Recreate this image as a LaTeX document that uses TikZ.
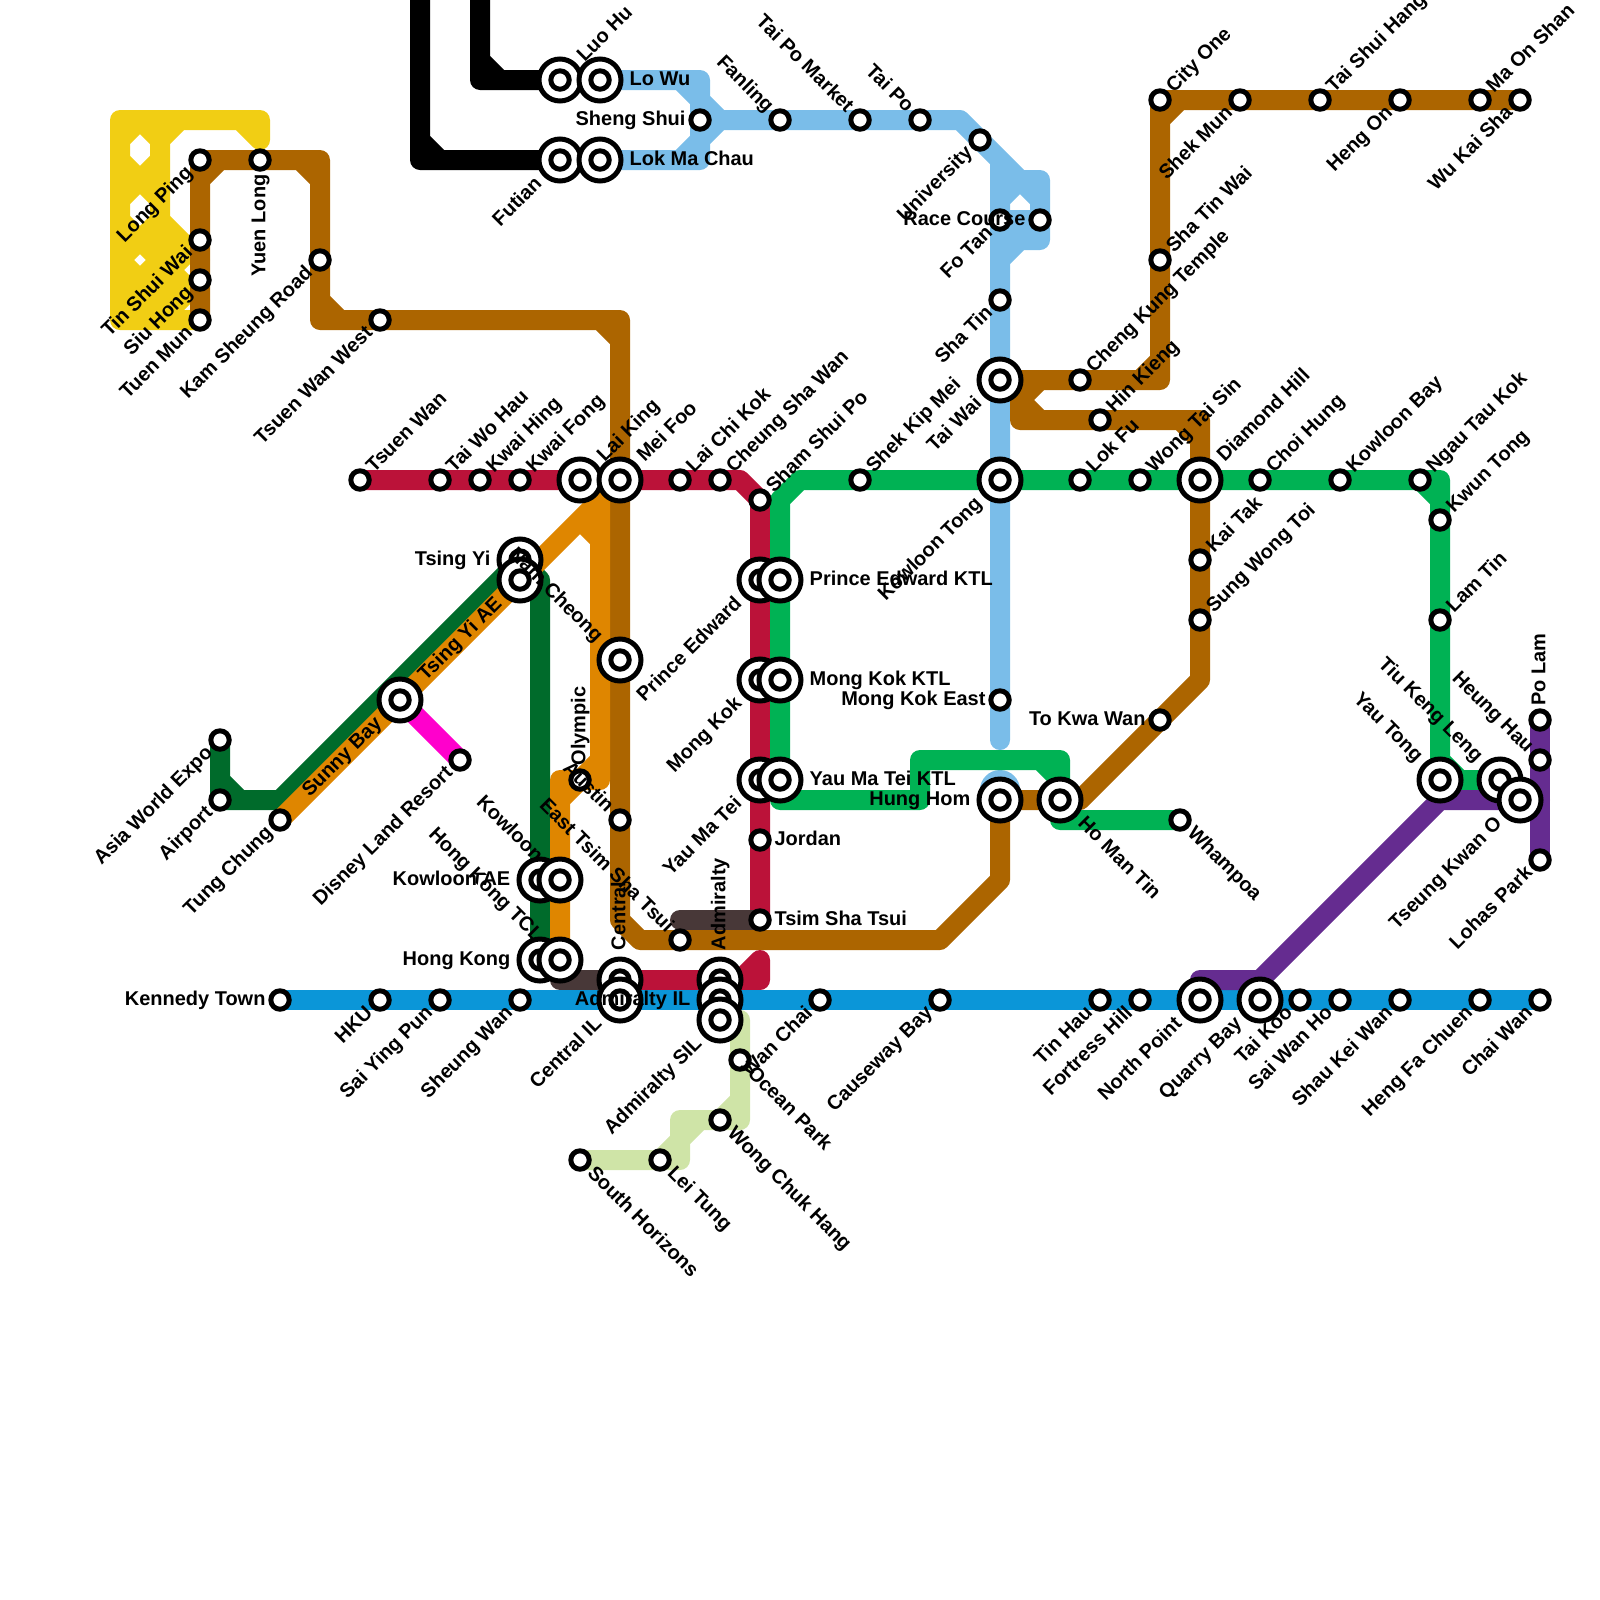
\documentclass[tikz,border=0pt]{standalone}
\usepackage{fontspec}
\usepackage{xcolor}
\usepackage{tikz}
\usetikzlibrary{backgrounds}
\setmainfont{Liberation Sans}
\definecolor{lightRailColor}{HTML}{F1CE14}
\definecolor{tuenMaColor}{HTML}{AC6500}
\definecolor{eastRailColor}{HTML}{7ABDE9}
\definecolor{tsuenWanColor}{HTML}{BB1239}
\definecolor{kwunTongColor}{HTML}{00B254}
\definecolor{tungChungColor}{HTML}{006B2B}
\definecolor{airportColor}{HTML}{DF8600}
\definecolor{islandColor}{HTML}{0B96D8}
\definecolor{tkoColor}{HTML}{652C90}
\definecolor{southColor}{HTML}{CFE4A7}
\definecolor{disneyColor}{HTML}{FF00CC}
\definecolor{linkColor}{HTML}{483838}

\begin{document}
\begin{tikzpicture}[x=0.5cm, y=-0.5cm,
    rail/.style={line width=0.5cm, line join=round, line cap=round},
    stn/.style={circle, draw=black, fill=white, line width=0.125cm, minimum size=0.46cm, inner sep=0pt, outer sep=0.8pt},
    xstn/.style={circle, draw=black, fill=white, line width=0.125cm, minimum size=1.05cm, inner sep=0pt, outer sep=3.2pt,
        path picture={\draw[line width=0.125cm] (path picture bounding box.center) circle (0.23cm);}},
    lab/.style={font=\bfseries\fontsize{14.2}{14.2}\selectfont, inner sep=3pt, outer sep=0pt, text height=10pt, text depth=2.4pt},
    labUR/.style={lab, rotate=45, anchor=west},
    labDL/.style={lab, rotate=45, anchor=east},
    labUL/.style={lab, rotate=-45, anchor=east},
    labDR/.style={lab, rotate=-45, anchor=west},
    labR/.style={lab, anchor=west},
    labL/.style={lab, anchor=east},
    labU/.style={lab, rotate=90, anchor=west},
    labD/.style={lab, rotate=90, anchor=east}]
    \useasboundingbox (0,0) rectangle (80,80);

    \coordinate (futianTop) at (21,-1);
    \coordinate (luoHuTop) at (24,-1);

    \node[stn] (longPing) at (10,8) {};
    \node[stn] (yuenLong) at (13,8) {};
    \node[stn] (tinShuiWai) at (10,12) {};
    \node[stn] (siuHong) at (10,14) {};
    \node[stn] (tuenMun) at (10,16) {};
    \node[stn] (kamSheung) at (16,13) {};
    \node[stn] (tsuenWanWest) at (19,16) {};
    \node[xstn] (luoHu) at (28,4) {};
    \node[xstn] (loWu) at (30,4) {};
    \node[xstn] (futian) at (28,8) {};
    \node[xstn] (lokMaChau) at (30,8) {};
    \node[stn] (shengShui) at (35,6) {};
    \node[stn] (fanling) at (39,6) {};
    \node[stn] (taiPoMarket) at (43,6) {};
    \node[stn] (taiPo) at (46,6) {};
    \node[stn] (university) at (49,7) {};
    \node[stn] (foTan) at (50,11) {};
    \node[stn] (raceCourse) at (52,11) {};
    \node[stn] (shaTin) at (50,15) {};
    \node[xstn] (taiWai) at (50,19) {};
    \node[stn] (chengKung) at (54,19) {};
    \node[stn] (hinKieng) at (55,21) {};
    \node[stn] (shaTinWai) at (58,13) {};
    \node[stn] (cityOne) at (58,5) {};
    \node[stn] (shekMun) at (62,5) {};
    \node[stn] (taiShuiHang) at (66,5) {};
    \node[stn] (hengOn) at (70,5) {};
    \node[stn] (maOnShan) at (74,5) {};
    \node[stn] (wuKaiSha) at (76,5) {};
    \node[stn] (tsuenWan) at (18,24) {};
    \node[stn] (taiWoHau) at (22,24) {};
    \node[stn] (kwaiHing) at (24,24) {};
    \node[stn] (kwaiFong) at (26,24) {};
    \node[xstn] (laiKing) at (29,24) {};
    \node[xstn] (meiFoo) at (31,24) {};
    \node[stn] (laiChiKok) at (34,24) {};
    \node[stn] (cheungShaWan) at (36,24) {};
    \node[stn] (shamShuiPo) at (38,25) {};
    \node[stn] (shekKipMei) at (43,24) {};
    \node[xstn] (kowloonTong) at (50,24) {};
    \node[stn] (lokFu) at (54,24) {};
    \node[stn] (wongTaiSin) at (57,24) {};
    \node[xstn] (diamondHill) at (60,24) {};
    \node[stn] (choiHung) at (63,24) {};
    \node[stn] (kowloonBay) at (67,24) {};
    \node[stn] (ngauTauKok) at (71,24) {};
    \node[stn] (kwunTong) at (72,26) {};
    \node[stn] (kaiTak) at (60,28) {};
    \node[stn] (sungWongToi) at (60,31) {};
    \node[stn] (lamTin) at (72,31) {};
    \node[xstn] (tsingYi) at (26,28) {};
    \node[xstn] (tsingYiAe) at (26,29) {};
    \node[xstn] (namCheong) at (31,33) {};
    \node[xstn] (sunnyBay) at (20,35) {};
    \node[stn] (disney) at (23,38) {};
    \node[stn] (asiaWorld) at (11,37) {};
    \node[stn] (airport) at (11,40) {};
    \node[stn] (tungChung) at (14,41) {};
    \node[xstn] (princeEdward) at (38,29) {};
    \node[xstn] (princeEdwardKtl) at (39,29) {};
    \node[xstn] (mongKok) at (38,34) {};
    \node[xstn] (mongKokKtl) at (39,34) {};
    \node[xstn] (yauMaTei) at (38,39) {};
    \node[xstn] (yauMaTeiKtl) at (39,39) {};
    \node[stn] (olympic) at (29,39) {};
    \node[stn] (austin) at (31,41) {};
    \node[stn] (jordan) at (38,42) {};
    \node[stn] (tsimShaTsui) at (38,46) {};
    \node[stn] (eastTsim) at (34,47) {};
    \node[stn] (mongKokEast) at (50,35) {};
    \node[stn] (toKwaWan) at (58,36) {};
    \node[xstn] (hungHom) at (50,40) {};
    \node[xstn] (hoManTin) at (53,40) {};
    \node[stn] (whampoa) at (59,41) {};
    \node[xstn] (kowloonAe) at (27,44) {};
    \node[xstn] (kowloon) at (28,44) {};
    \node[xstn] (hongKong) at (27,48) {};
    \node[xstn] (hongKongTcl) at (28,48) {};
    \node[xstn] (central) at (31,49) {};
    \node[xstn] (centralIl) at (31,50) {};
    \node[xstn] (admiralty) at (36,49) {};
    \node[xstn] (admiraltyIl) at (36,50) {};
    \node[xstn] (admiraltySil) at (36,51) {};
    \node[stn] (kennedyTown) at (14,50) {};
    \node[stn] (hku) at (19,50) {};
    \node[stn] (saiYingPun) at (22,50) {};
    \node[stn] (sheungWan) at (26,50) {};
    \node[stn] (wanChai) at (41,50) {};
    \node[stn] (causewayBay) at (47,50) {};
    \node[stn] (tinHau) at (55,50) {};
    \node[stn] (fortressHill) at (57,50) {};
    \node[xstn] (northPoint) at (60,50) {};
    \node[xstn] (quarryBay) at (63,50) {};
    \node[stn] (taiKoo) at (65,50) {};
    \node[stn] (saiWanHo) at (67,50) {};
    \node[stn] (shauKeiWan) at (70,50) {};
    \node[stn] (hengFaChuen) at (74,50) {};
    \node[stn] (chaiWan) at (77,50) {};
    \node[stn] (oceanPark) at (37,53) {};
    \node[stn] (wongChukHang) at (36,56) {};
    \node[stn] (leiTung) at (33,58) {};
    \node[stn] (southHorizons) at (29,58) {};
    \node[xstn] (yauTong) at (72,39) {};
    \node[xstn] (tiuKengLeng) at (75,39) {};
    \node[xstn] (tseungKwanO) at (76,40) {};
    \node[stn] (poLam) at (77,36) {};
    \node[stn] (heungHau) at (77,38) {};
    \node[stn] (lohasPark) at (77,43) {};

    \begin{scope}[on background layer]
        \draw[rail, lightRailColor] (6,16) -- (6,6) -- (13,6) -- (13,7) (8,6) -- (8,16) (6,16) -- (tuenMun.center)
            (12,6) -- (13,7) (8,7) -- (9,6) (6,7) -- (7,6) -- (8,7)
            (6,8) -- (7,9) -- (8,8) (6,10) -- (7,9) -- (8,10)
            (6,11) -- (7,12) -- (8,11) (6,13) -- (7,12) -- (8,13)
            (6,13) -- (7,14) -- (8,13) (7,14) -- (7,16)
            (8,11) -- (10,13) (8,13) -- (10,15) (8,15) -- (9,16)
            (8,14) -- (tinShuiWai.center) (8,16) -- (siuHong.center)
            (8,12) -- (9,13) (8,14) -- (9,15);
        \draw[rail, black] (futianTop) -- (21,8) -- (futian.center) (21,7) -- (22,8);
        \draw[rail, black] (luoHuTop) -- (24,4) -- (luoHu.center) (24,3) -- (25,4);
        \draw[rail, eastRailColor] (loWu.center) -- (35,4) -- (35,8) -- (lokMaChau.center)
            (34,4) -- (35,5) -- (36,6) -- (35,7) -- (34,8)
            (shengShui.center) -- (fanling.center) -- (taiPoMarket.center) -- (taiPo.center) -- (48,6) -- (university.center) -- (51,9) -- (52,9) -- (raceCourse.center) -- (52,12) -- (50,12)
            (50,8) -- (foTan.center) -- (shaTin.center) -- (taiWai.center) -- (kowloonTong.center) -- (mongKokEast.center) -- (50,37)
            (50,10) -- (51,9) -- (52,10) (foTan.center) -- (raceCourse.center) (50,13) -- (51,12);
        \draw[eastRailColor, line width=1cm, line cap=round] (50,39.5) -- (hungHom.center);
        \draw[rail, tuenMaColor] (tuenMun.center) -- (siuHong.center) -- (tinShuiWai.center) -- (longPing.center) -- (yuenLong.center) -- (16,8) -- (kamSheung.center) -- (16,16) -- (tsuenWanWest.center) -- (31,16) -- (meiFoo.center) -- (namCheong.center) -- (austin.center) -- (31,46) -- (32,47) -- (eastTsim.center) -- (47,47) -- (50,44) -- (hungHom.center) -- (hoManTin.center) -- (54,40) -- (toKwaWan.center) -- (60,34) -- (sungWongToi.center) -- (kaiTak.center) -- (diamondHill.center) -- (60,21) -- (hinKieng.center) -- (51,21) -- (51,19)
            (10,9) -- (11,8) (15,8) -- (16,9) (16,15) -- (17,16) (30,16) -- (31,17) (59,21) -- (60,22) (51,20) -- (52,19) (51,20) -- (52,21);
        \draw[rail, tuenMaColor] (taiWai.center) -- (chengKung.center) -- (58,19) -- (shaTinWai.center) -- (cityOne.center) -- (shekMun.center) -- (taiShuiHang.center) -- (hengOn.center) -- (maOnShan.center) -- (wuKaiSha.center)
            (57,19) -- (58,18) (58,6) -- (59,5);
        \draw[rail, tsuenWanColor] (tsuenWan.center) -- (taiWoHau.center) -- (kwaiHing.center) -- (kwaiFong.center) -- (laiKing.center) -- (meiFoo.center) -- (laiChiKok.center) -- (cheungShaWan.center) -- (37,24) -- (shamShuiPo.center) -- (princeEdward.center) -- (mongKok.center) -- (yauMaTei.center) -- (jordan.center) -- (tsimShaTsui.center);
        \draw[rail, tsuenWanColor] (central.center) -- (admiralty.center) -- (38,49) -- (38,48) (37,49) -- (38,48);
        \draw[rail, kwunTongColor] (princeEdwardKtl.center) -- (39,25) -- (40,24) -- (shekKipMei.center) -- (kowloonTong.center) -- (lokFu.center) -- (wongTaiSin.center) -- (diamondHill.center) -- (choiHung.center) -- (kowloonBay.center) -- (ngauTauKok.center) -- (72,24) -- (kwunTong.center) -- (lamTin.center) -- (yauTong.center) -- (tiuKengLeng.center)
            (ngauTauKok.center) -- (72,25) (72,38) -- (73,39);
        \draw[rail, kwunTongColor] (princeEdwardKtl.center) -- (mongKokKtl.center) -- (yauMaTeiKtl.center) -- (39,40) -- (46,40) -- (46,38) -- (53,38) -- (hoManTin.center) -- (53,41) -- (whampoa.center) (52,38) -- (53,39);
        \draw[rail, tungChungColor] (asiaWorld.center) -- (airport.center) -- (14,40) -- (tsingYi.center) -- (27,29) -- (kowloonAe.center) -- (hongKong.center) (11,39) -- (12,40);
        \draw[rail, airportColor] (tungChung.center) -- (sunnyBay.center) -- (tsingYiAe.center) -- (30,25) -- (30,39) -- (28,39) -- (kowloon.center) -- (hongKongTcl.center)
            (29,26) -- (30,27) (28,40) -- (30,38);
        \draw[rail, disneyColor] (sunnyBay.center) -- (disney.center);
        \draw[rail, linkColor] (hongKongTcl.center) -- (28,49) -- (central.center);
        \draw[rail, linkColor] (34,46) -- (tsimShaTsui.center);
        \draw[rail, islandColor] (kennedyTown.center) -- (hku.center) -- (saiYingPun.center) -- (sheungWan.center) -- (centralIl.center) -- (admiraltyIl.center) -- (wanChai.center) -- (causewayBay.center) -- (tinHau.center) -- (fortressHill.center) -- (northPoint.center) -- (quarryBay.center) -- (taiKoo.center) -- (saiWanHo.center) -- (shauKeiWan.center) -- (hengFaChuen.center) -- (chaiWan.center);
        \draw[rail, tkoColor] (northPoint.center) -- (60,49) -- (63,49) -- (72,40) -- (tseungKwanO.center) -- (77,40);
        \draw[rail, tkoColor] (poLam.center) -- (heungHau.center) -- (lohasPark.center);
        \draw[rail, southColor] (admiraltySil.center) -- (37,51) -- (oceanPark.center) -- (37,56) -- (wongChukHang.center) -- (34,56) -- (34,58) -- (leiTung.center) -- (southHorizons.center)
            (36,56) -- (37,55) (33,58) -- (34,57) -- (35,56);
    \end{scope}

    \node[labDL] (longPingLab) at (longPing.south west) {Long Ping};
    \node[labD] (yuenLongLab) at (yuenLong.south) {Yuen Long};
    \node[labDL] (tinShuiWaiLab) at (tinShuiWai.south west) {Tin Shui Wai};
    \node[labDL] (siuHongLab) at (siuHong.south west) {Siu Hong};
    \node[labDL] (tuenMunLab) at (tuenMun.south west) {Tuen Mun};
    \node[labDL] (kamSheungLab) at (kamSheung.south west) {Kam Sheung Road};
    \node[labDL] (tsuenWanWestLab) at (tsuenWanWest.south west) {Tsuen Wan West};
    \node[labUR] (luoHuLab) at (luoHu.north east) {Luo Hu};
    \node[labR] (loWuLab) at (loWu.east) {Lo Wu};
    \node[labDL] (futianLab) at (futian.south west) {Futian};
    \node[labR] (lokMaChauLab) at (lokMaChau.east) {Lok Ma Chau};
    \node[labL] (shengShuiLab) at (shengShui.west) {Sheng Shui};
    \node[labUL] (fanlingLab) at (fanling.north west) {Fanling};
    \node[labUL] (taiPoMarketLab) at (taiPoMarket.north west) {Tai Po Market};
    \node[labUL] (taiPoLab) at (taiPo.north west) {Tai Po};
    \node[labDL] (universityLab) at (university.south west) {University};
    \node[labDL] (foTanLab) at (foTan.south west) {Fo Tan};
    \node[labL] (raceCourseLab) at (raceCourse.west) {Race Course};
    \node[labDL] (shaTinLab) at (shaTin.south west) {Sha Tin};
    \node[labDL] (taiWaiLab) at (taiWai.south west) {Tai Wai};
    \node[labUR] (chengKungLab) at (chengKung.north east) {Cheng Kung Temple};
    \node[labUR] (hinKiengLab) at (hinKieng.north east) {Hin Kieng};
    \node[labUR] (shaTinWaiLab) at (shaTinWai.north east) {Sha Tin Wai};
    \node[labUR] (cityOneLab) at (cityOne.north east) {City One};
    \node[labDL] (shekMunLab) at (shekMun.south west) {Shek Mun};
    \node[labUR] (taiShuiHangLab) at (taiShuiHang.north east) {Tai Shui Hang};
    \node[labDL] (hengOnLab) at (hengOn.south west) {Heng On};
    \node[labDL] (wuKaiShaLab) at (wuKaiSha.south west) {Wu Kai Sha};
    \node[labUR] (maOnShanLab) at (maOnShan.north east) {Ma On Shan};
    \node[labUR] (tsuenWanLab) at (tsuenWan.north east) {Tsuen Wan};
    \node[labUR] (taiWoHauLab) at (taiWoHau.north east) {Tai Wo Hau};
    \node[labUR] (kwaiHingLab) at (kwaiHing.north east) {Kwai Hing};
    \node[labUR] (kwaiFongLab) at (kwaiFong.north east) {Kwai Fong};
    \node[labUR] (laiKingLab) at (laiKing.north east) {Lai King};
    \node[labUR] (meiFooLab) at (meiFoo.north east) {Mei Foo};
    \node[labUR] (laiChiKokLab) at (laiChiKok.north east) {Lai Chi Kok};
    \node[labUR] (cheungShaWanLab) at (cheungShaWan.north east) {Cheung Sha Wan};
    \node[labUR] (shamShuiPoLab) at (shamShuiPo.north east) {Sham Shui Po};
    \node[labUR] (shekKipMeiLab) at (shekKipMei.north east) {Shek Kip Mei};
    \node[labDL] (kowloonTongLab) at (kowloonTong.south west) {Kowloon Tong};
    \node[labUR] (lokFuLab) at (lokFu.north east) {Lok Fu};
    \node[labUR] (wongTaiSinLab) at (wongTaiSin.north east) {Wong Tai Sin};
    \node[labUR] (diamondHillLab) at (diamondHill.north east) {Diamond Hill};
    \node[labUR] (choiHungLab) at (choiHung.north east) {Choi Hung};
    \node[labUR] (kowloonBayLab) at (kowloonBay.north east) {Kowloon Bay};
    \node[labUR] (ngauTauKokLab) at (ngauTauKok.north east) {Ngau Tau Kok};
    \node[labUR] (kwunTongLab) at (kwunTong.north east) {Kwun Tong};
    \node[labUR] (kaiTakLab) at (kaiTak.north east) {Kai Tak};
    \node[labUR] (sungWongToiLab) at (sungWongToi.north east) {Sung Wong Toi};
    \node[labUR] (lamTinLab) at (lamTin.north east) {Lam Tin};
    \node[labL] (tsingYiLab) at (tsingYi.west) {Tsing Yi};
    \node[labDL] (tsingYiAeLab) at (tsingYiAe.south west) {Tsing Yi AE};
    \node[labUL] (namCheongLab) at (namCheong.north west) {Nam Cheong};
    \node[labDL] (sunnyBayLab) at (sunnyBay.south west) {Sunny Bay};
    \node[labDL] (disneyLab) at (disney.south west) {Disney Land Resort};
    \node[labDL] (asiaWorldLab) at (asiaWorld.south west) {Asia World Expo};
    \node[labDL] (airportLab) at (airport.south west) {Airport};
    \node[labDL] (tungChungLab) at (tungChung.south west) {Tung Chung};
    \node[labDL] (princeEdwardLab) at (princeEdward.south west) {Prince Edward};
    \node[labR] (princeEdwardKtlLab) at (princeEdwardKtl.east) {Prince Edward KTL};
    \node[labDL] (mongKokLab) at (mongKok.south west) {Mong Kok};
    \node[labR] (mongKokKtlLab) at (mongKokKtl.east) {Mong Kok KTL};
    \node[labDL] (yauMaTeiLab) at (yauMaTei.south west) {Yau Ma Tei};
    \node[labR] (yauMaTeiKtlLab) at (yauMaTeiKtl.east) {Yau Ma Tei KTL};
    \node[labU] (olympicLab) at (olympic.north) {Olympic};
    \node[labUL] (austinLab) at (austin.north west) {Austin};
    \node[labR] (jordanLab) at (jordan.east) {Jordan};
    \node[labR] (tsimShaTsuiLab) at (tsimShaTsui.east) {Tsim Sha Tsui};
    \node[labUL] (eastTsimLab) at (eastTsim.north west) {East Tsim Sha Tsui};
    \node[labL] (mongKokEastLab) at (mongKokEast.west) {Mong Kok East};
    \node[labL] (toKwaWanLab) at (toKwaWan.west) {To Kwa Wan};
    \node[labL] (hungHomLab) at (hungHom.west) {Hung Hom};
    \node[labDR] (hoManTinLab) at (hoManTin.south east) {Ho Man Tin};
    \node[labDR] (whampoaLab) at (whampoa.south east) {Whampoa};
    \node[labL] (kowloonAeLab) at (kowloonAe.west) {Kowloon AE};
    \node[labUL] (kowloonLab) at (kowloon.north west) {Kowloon};
    \node[labL] (hongKongLab) at (hongKong.west) {Hong Kong};
    \node[labUL] (hongKongTclLab) at (hongKongTcl.north west) {Hong Kong TCL};
    \node[labU] (centralLab) at (central.north) {Central};
    \node[labDL] (centralIlLab) at (centralIl.south west) {Central IL};
    \node[labU] (admiraltyLab) at (admiralty.north) {Admiralty};
    \node[labL] (admiraltyIlLab) at (admiraltyIl.west) {Admiralty IL};
    \node[labDL] (admiraltySilLab) at (admiraltySil.south west) {Admiralty SIL};
    \node[labL] (kennedyTownLab) at (kennedyTown.west) {Kennedy Town};
    \node[labDL] (hkuLab) at (hku.south west) {HKU};
    \node[labDL] (saiYingPunLab) at (saiYingPun.south west) {Sai Ying Pun};
    \node[labDL] (sheungWanLab) at (sheungWan.south west) {Sheung Wan};
    \node[labDL] (wanChaiLab) at (wanChai.south west) {Wan Chai};
    \node[labDL] (causewayBayLab) at (causewayBay.south west) {Causeway Bay};
    \node[labDL] (tinHauLab) at (tinHau.south west) {Tin Hau};
    \node[labDL] (fortressHillLab) at (fortressHill.south west) {Fortress Hill};
    \node[labDL] (northPointLab) at (northPoint.south west) {North Point};
    \node[labDL] (quarryBayLab) at (quarryBay.south west) {Quarry Bay};
    \node[labDL] (taiKooLab) at (taiKoo.south west) {Tai Koo};
    \node[labDL] (saiWanHoLab) at (saiWanHo.south west) {Sai Wan Ho};
    \node[labDL] (shauKeiWanLab) at (shauKeiWan.south west) {Shau Kei Wan};
    \node[labDL] (hengFaChuenLab) at (hengFaChuen.south west) {Heng Fa Chuen};
    \node[labDL] (chaiWanLab) at (chaiWan.south west) {Chai Wan};
    \node[labDR] (oceanParkLab) at (oceanPark.south east) {Ocean Park};
    \node[labDR] (wongChukHangLab) at (wongChukHang.south east) {Wong Chuk Hang};
    \node[labDR] (leiTungLab) at (leiTung.south east) {Lei Tung};
    \node[labDR] (southHorizonsLab) at (southHorizons.south east) {South Horizons};
    \node[labUL] (yauTongLab) at (yauTong.north west) {Yau Tong};
    \node[labUL] (tiuKengLengLab) at (tiuKengLeng.north west) {Tiu Keng Leng};
    \node[labDL] (tseungKwanOLab) at (tseungKwanO.south west) {Tseung Kwan O};
    \node[labU] (poLamLab) at (poLam.north) {Po Lam};
    \node[labUL] (heungHauLab) at (heungHau.north west) {Heung Hau};
    \node[labDL] (lohasParkLab) at (lohasPark.south west) {Lohas Park};
\end{tikzpicture}
\end{document}
